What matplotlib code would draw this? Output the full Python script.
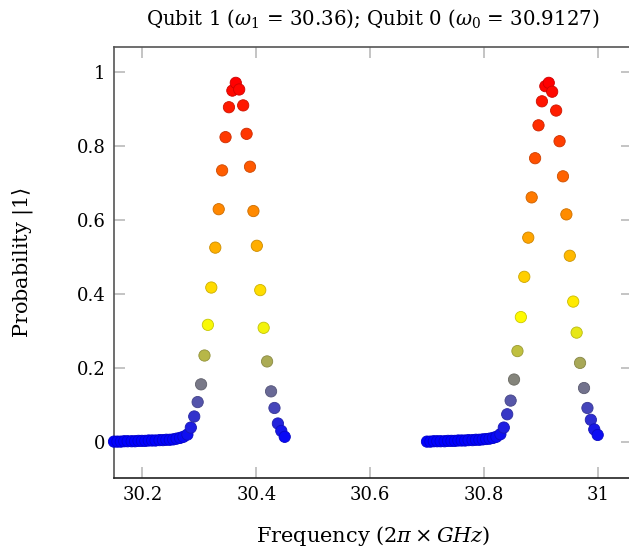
import matplotlib
matplotlib.use("Agg")
import numpy as np
import matplotlib.pyplot as plt
from matplotlib.colors import LinearSegmentedColormap, Normalize

freq_q1 = [30.150, 30.156, 30.162, 30.168, 30.174, 30.181, 30.187, 30.193, 30.199, 30.205,
           30.211, 30.217, 30.223, 30.230, 30.236, 30.242, 30.248, 30.254, 30.260, 30.266,
           30.272, 30.279, 30.285, 30.291, 30.297, 30.303, 30.309, 30.315, 30.321, 30.328,
           30.334, 30.340, 30.346, 30.352, 30.358, 30.364, 30.370, 30.377, 30.383, 30.389,
           30.395, 30.401, 30.407, 30.413, 30.419, 30.426, 30.432, 30.438, 30.444, 30.450]
prob_q1 = [0.001, 0.001, 0.001, 0.002, 0.002, 0.002, 0.002, 0.003, 0.003, 0.003,
           0.004, 0.004, 0.004, 0.005, 0.005, 0.006, 0.006, 0.007, 0.009, 0.011,
           0.014, 0.020, 0.039, 0.069, 0.108, 0.156, 0.234, 0.317, 0.418, 0.526,
           0.630, 0.735, 0.825, 0.906, 0.951, 0.972, 0.954, 0.911, 0.834, 0.745,
           0.625, 0.531, 0.411, 0.309, 0.218, 0.137, 0.092, 0.050, 0.030, 0.014]

freq_q0 = [30.700, 30.706, 30.712, 30.718, 30.724, 30.731, 30.737, 30.743, 30.749, 30.755,
           30.761, 30.767, 30.773, 30.780, 30.786, 30.792, 30.798, 30.804, 30.810, 30.816,
           30.822, 30.829, 30.835, 30.841, 30.847, 30.853, 30.859, 30.865, 30.871, 30.878,
           30.884, 30.890, 30.896, 30.902, 30.908, 30.914, 30.920, 30.927, 30.933, 30.939,
           30.945, 30.951, 30.957, 30.963, 30.969, 30.976, 30.982, 30.988, 30.994, 31.000]
prob_q0 = [0.001, 0.001, 0.002, 0.002, 0.002, 0.002, 0.003, 0.003, 0.003, 0.004,
           0.004, 0.004, 0.005, 0.005, 0.006, 0.006, 0.007, 0.008, 0.009, 0.011,
           0.014, 0.021, 0.039, 0.075, 0.112, 0.169, 0.246, 0.338, 0.447, 0.553,
           0.662, 0.768, 0.857, 0.922, 0.963, 0.972, 0.948, 0.897, 0.814, 0.719,
           0.616, 0.504, 0.380, 0.296, 0.214, 0.146, 0.092, 0.060, 0.034, 0.019]

x_ticks = [30.2, 30.4, 30.6, 30.8, 31.0]
x_tick_labels = ["30.2", "30.4", "30.6", "30.8", "31"]
y_ticks = [0, 0.2, 0.4, 0.6, 0.8, 1.0]
y_tick_labels = ["0", "0.2", "0.4", "0.6", "0.8", "1"]

plt.rcParams["font.family"] = ["DejaVu Serif"]
plt.rcParams["mathtext.fontset"] = "dejavuserif"

# pgfplots "hot" colormap: blue -> yellow -> orange -> red
hot = LinearSegmentedColormap.from_list("pgf_hot", ["#0000ff", "#ffff00", "#ff8000", "#ff0000"])

fig = plt.figure(figsize=(6.29, 5.52), dpi=100)
ax = fig.add_axes([114 / 629, 74 / 552, 518 / 629, 431 / 552])

all_prob = np.concatenate([prob_q1, prob_q0])
norm = Normalize(vmin=all_prob.min(), vmax=all_prob.max())

for freq, prob in [(freq_q1, prob_q1), (freq_q0, prob_q0)]:
    fc = hot(norm(np.array(prob)))
    ec = fc.copy()
    ec[:, :3] *= 0.8
    ax.scatter(freq, prob, s=66, c=fc, edgecolors=ec, linewidths=0.6,
               clip_on=False, zorder=3)

ax.set_xlim(30.150, 31.0603)
ax.set_ylim(-0.0975, 1.069)
ax.set_xticks(x_ticks)
ax.set_xticklabels(x_tick_labels)
ax.set_yticks(y_ticks)
ax.set_yticklabels(y_tick_labels)

ax.tick_params(direction="in", length=8, width=1.1, color="#b4b4b4",
               top=True, right=True, labelsize=13, pad=6)
for side in ["left", "bottom", "top", "right"]:
    ax.spines[side].set_color("#555555")
    ax.spines[side].set_linewidth(1.2)
ax.spines["bottom"].set_color("#222222")

ax.set_title(r"Qubit 1 ($\omega_1$ = 30.36); Qubit 0 ($\omega_0$ = 30.9127)",
             fontsize=14.2, pad=16)
ax.set_xlabel(r"Frequency ($2\pi \times GHz$)", fontsize=15, labelpad=14)
ax.set_ylabel(r"Probability $|1\rangle$", fontsize=15, labelpad=30)

plt.savefig("out.png", dpi=100)
